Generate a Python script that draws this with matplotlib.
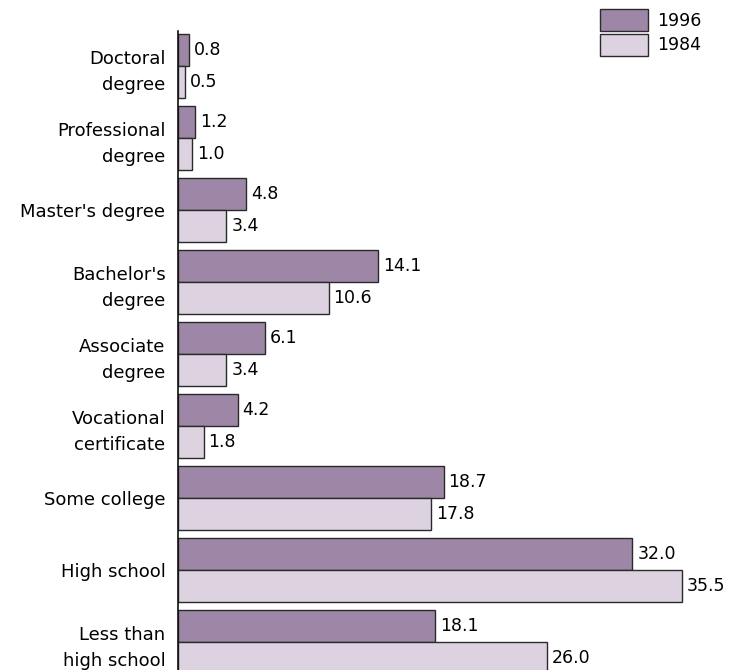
import matplotlib.pyplot as plt
import numpy as np
from matplotlib.patches import Patch

categories = ['Doctoral\ndegree', 'Professional\ndegree', "Master's degree",
              "Bachelor's\ndegree", 'Associate\ndegree', 'Vocational\ncertificate',
              'Some college', 'High school', 'Less than\nhigh school']
vals_1996 = [0.8, 1.2, 4.8, 14.1, 6.1, 4.2, 18.7, 32.0, 18.1]
vals_1984 = [0.5, 1.0, 3.4, 10.6, 3.4, 1.8, 17.8, 35.5, 26.0]
series = ['1996', '1984']

c96 = '#9e87a6'
c84 = '#dcd2e0'
edge = '#2a2a2a'
fs = 12.5

fig = plt.figure(figsize=(7.32, 6.70), dpi=100)
ax = fig.add_axes([178 / 732, 0, 1 - 178 / 732, (670 - 31) / 670])

y = np.arange(len(categories))
h = 32 / 72
ax.barh(y - h / 2, vals_1996, height=h, color=c96, edgecolor=edge, linewidth=1)
ax.barh(y + h / 2, vals_1984, height=h, color=c84, edgecolor=edge, linewidth=1)

for i in range(len(categories)):
    ax.text(vals_1996[i] + 0.35, y[i] - h / 2, f'{vals_1996[i]:.1f}',
            va='center', ha='left', fontsize=fs)
    ax.text(vals_1984[i] + 0.35, y[i] + h / 2, f'{vals_1984[i]:.1f}',
            va='center', ha='left', fontsize=fs)

ax.set_xlim(0, 554 / 14.2)
ax.set_ylim(8 + 28 / 72, -35 / 72)
ax.set_yticks(y)
ax.set_yticklabels(categories, fontsize=13, linespacing=1.6)
ax.tick_params(axis='y', length=0, pad=9)
ax.set_xticks([])
for s in ['top', 'right', 'bottom']:
    ax.spines[s].set_visible(False)
ax.spines['left'].set_linewidth(1.2)
ax.spines['left'].set_color('#111111')

handles = [Patch(facecolor=c96, edgecolor=edge, label=series[0]),
           Patch(facecolor=c84, edgecolor=edge, label=series[1])]
fig.legend(handles=handles, loc='upper left', bbox_to_anchor=(597 / 732, 1 - 6 / 670),
           frameon=False, fontsize=fs, handlelength=2.75, handleheight=1.55,
           handletextpad=0.5, labelspacing=0.15, borderaxespad=0, borderpad=0.2)

fig.savefig('out.png', dpi=100)
